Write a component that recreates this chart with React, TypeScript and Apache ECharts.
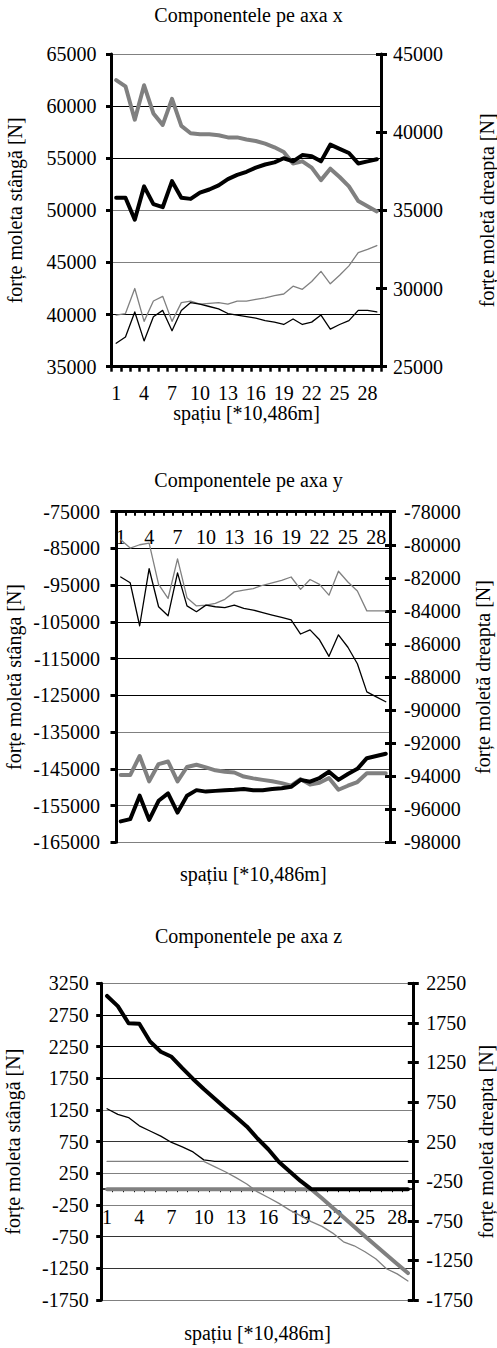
import React, { useEffect, useRef } from 'react';
import * as echarts from 'echarts';

const categories = ['1', '2', '3', '4', '5', '6', '7', '8', '9', '10', '11', '12', '13', '14', '15', '16', '17', '18', '19', '20', '21', '22', '23', '24', '25', '26', '27', '28', '29'];

// Componentele pe axa x
const xThickGrayLeft = [62500, 61900, 58700, 62000, 59300, 58200, 60700, 58100, 57400, 57300, 57300, 57200, 57000, 57000, 56800, 56650, 56400, 56050, 55600, 54500, 54700, 54100, 52900, 54000, 53200, 52300, 50900, 50400, 49900];
const xThickBlackLeft = [51200, 51200, 49100, 52300, 50600, 50300, 52800, 51200, 51100, 51700, 52000, 52400, 53000, 53400, 53700, 54100, 54400, 54600, 55000, 54700, 55300, 55200, 54700, 56300, 55900, 55500, 54500, 54700, 54900];
const xThinGrayRight = [28300, 28400, 30000, 27900, 29200, 29500, 27900, 29100, 29200, 29000, 29050, 29100, 29000, 29200, 29200, 29300, 29400, 29550, 29650, 30150, 29950, 30450, 31100, 30300, 30850, 31450, 32300, 32500, 32750];
const xThinBlackRight = [26500, 26900, 28500, 26650, 28200, 28600, 27300, 28600, 29100, 29000, 28850, 28700, 28400, 28300, 28200, 28100, 27950, 27850, 27700, 28050, 27700, 27850, 28300, 27400, 27700, 27950, 28600, 28600, 28500];

// Componentele pe axa y
const yThickGrayLeft = [-146700, -146700, -141500, -148400, -143700, -143000, -148400, -144500, -143900, -144600, -145400, -145800, -146000, -147100, -147600, -148000, -148400, -148900, -149600, -147800, -149300, -148800, -147500, -150700, -149600, -148600, -146200, -146200, -146200];
const yThickBlackLeft = [-159300, -158700, -152300, -158900, -153700, -151700, -156900, -152300, -150800, -151200, -151000, -150800, -150700, -150500, -150800, -150800, -150500, -150300, -149900, -148000, -148500, -147500, -145800, -148000, -146400, -145000, -142100, -141500, -140900];
const yThinGrayRight = [-79700, -80200, -80000, -79900, -82400, -83250, -80850, -83200, -83700, -83650, -83550, -83300, -82850, -82750, -82650, -82450, -82300, -82150, -81950, -82700, -82100, -82400, -83050, -81600, -82250, -82800, -84000, -84000, -84000];
const yThinBlackRight = [-81950, -82300, -84900, -81450, -83750, -84300, -81700, -83700, -84050, -83650, -83750, -83800, -83650, -83850, -83950, -84100, -84250, -84400, -84550, -85400, -85150, -85750, -86750, -85450, -86200, -87200, -88900, -89200, -89500];

// Componentele pe axa z
const zThickBlackLeft = [3050, 2890, 2620, 2610, 2330, 2170, 2090, 1910, 1740, 1580, 1430, 1280, 1140, 990, 800, 630, 430, 280, 130, 0, 0, 0, 0, 0, 0, 0, 0, 0, 0];
const zThickGrayLeft = [0, 0, 0, 0, 0, 0, 0, 0, 0, 0, 0, 0, 0, 0, 0, 0, 0, 0, 0, 0, -145, -295, -445, -595, -745, -890, -1035, -1180, -1325];
const zThinBlackRight = [665, 595, 555, 450, 385, 320, 240, 185, 120, 20, 0, 0, 0, 0, 0, 0, 0, 0, 0, 0, 0, 0, 0, 0, 0, 0, 0, 0, 0];
const zThinGrayRight = [0, 0, 0, 0, 0, 0, 0, 0, 0, 0, -65, -130, -205, -285, -385, -455, -530, -615, -685, -760, -820, -905, -1015, -1065, -1140, -1230, -1355, -1420, -1510];

// axis ranges [min, max, interval]
const xLeftRange = [35000, 65000, 5000];
const xRightRange = [25000, 45000, 5000];
const yLeftRange = [-165000, -75000, 10000];
const yRightRange = [-98000, -78000, 2000];
const zLeftRange = [-1750, 3250, 500];
const zRightRange = [-1750, 2250, 500];

const titles = ['Componentele pe axa x', 'Componentele pe axa y', 'Componentele pe axa z'];
const xName = 'spațiu [*10,486m]';
const leftNames = ['forțe moleta stângă [N]', 'forțe moletă stânga [N]', 'forțe moleta stângă [N]'];
const rightName = 'forțe moletă dreapta [N]';

const FONT = "'Liberation Serif', 'Times New Roman', serif";
const GRAY = '#808080';
const BLACK = '#000000';

type Panel = {
  title: string;
  titleTop: number;
  grid: { left: number; right: number; top: number; height: number };
  zeroOffset: number; // height from grid top to the category axis when it sits on zero
  left: number[];
  right: number[];
  leftName: string;
  leftNameGap: number;
  rightNameGap: number;
  leftLabelMargin: number;
  rightLabelMargin: number;
  splitColors: string[];
  xMode: 'bottom' | 'top' | 'zero';
  xLabelMargin: number;
  xNameGap: number;
  xTickLength: number;
  xTickWidth: number;
  xLineWidth: number;
  thickGray: number[];
  thickBlack: number[];
  thinGray: number[];
  thinBlack: number[];
};

const panels: Panel[] = [
  {
    title: titles[0], titleTop: 5,
    grid: { left: 111.5, right: 115.5, top: 54, height: 312.7 }, zeroOffset: 0,
    left: xLeftRange, right: xRightRange,
    leftName: leftNames[0], leftNameGap: 86.5, rightNameGap: 95,
    leftLabelMargin: 15, rightLabelMargin: 11.5,
    splitColors: [BLACK, BLACK, GRAY, GRAY, BLACK, BLACK, GRAY],
    xMode: 'bottom', xLabelMargin: 16, xNameGap: 36.5, xTickLength: 5, xTickWidth: 2.5, xLineWidth: 3,
    thickGray: xThickGrayLeft, thickBlack: xThickBlackLeft, thinGray: xThinGrayRight, thinBlack: xThinBlackRight,
  },
  {
    title: titles[1], titleTop: 470,
    grid: { left: 116, right: 106.5, top: 511.7, height: 330.6 }, zeroOffset: 0,
    left: yLeftRange, right: yRightRange,
    leftName: leftNames[1], leftNameGap: 92, rightNameGap: 82,
    leftLabelMargin: 16, rightLabelMargin: 13.5,
    splitColors: [GRAY, GRAY, '#404040', GRAY, BLACK, BLACK, BLACK, BLACK, BLACK, BLACK],
    xMode: 'top', xLabelMargin: 15.5, xNameGap: 22, xTickLength: 4, xTickWidth: 2, xLineWidth: 3,
    thickGray: yThickGrayLeft, thickBlack: yThickBlackLeft, thinGray: yThinGrayRight, thinBlack: yThinBlackRight,
  },
  {
    title: titles[2], titleTop: 926,
    grid: { left: 101.7, right: 83.7, top: 983.3, height: 316.7 }, zeroOffset: 205.9,
    left: zLeftRange, right: zRightRange,
    leftName: leftNames[2], leftNameGap: 79, rightNameGap: 63,
    leftLabelMargin: 13, rightLabelMargin: 13,
    splitColors: [GRAY, '#333333', '#333333', GRAY, GRAY, '#333333', GRAY, BLACK, BLACK, BLACK, GRAY],
    xMode: 'zero', xLabelMargin: 17.5, xNameGap: 23, xTickLength: 3, xTickWidth: 1, xLineWidth: 1.5,
    thickGray: zThickGrayLeft, thickBlack: zThickBlackLeft, thinGray: zThinGrayRight, thinBlack: zThinBlackRight,
  },
];

const textBase = { fontFamily: FONT, fontSize: 20, fontWeight: 'normal', fontStyle: 'normal', color: BLACK };

function buildOption() {
  const title: any[] = [];
  const grid: any[] = [];
  const xAxis: any[] = [];
  const yAxis: any[] = [];
  const series: any[] = [];
  const extraGrids: any[] = [];
  const extraX: any[] = [];
  const extraY: any[] = [];

  panels.forEach((p, i) => {
    title.push({
      text: p.title, left: 'center', top: p.titleTop, padding: 0,
      textStyle: { ...textBase },
    });
    grid.push({ ...p.grid, containLabel: false, outerBoundsMode: 'none' });

    const mainAxis: any = {
      type: 'category', data: categories, boundaryGap: true,
      position: p.xMode === 'top' ? 'top' : 'bottom',
      axisLine: { show: true, onZero: false, lineStyle: { color: BLACK, width: p.xLineWidth } },
      axisTick: { show: true, interval: 0, inside: p.xMode === 'top', length: p.xTickLength, lineStyle: { color: BLACK, width: p.xTickWidth } },
      axisLabel: { show: true, interval: 2, inside: p.xMode === 'top', margin: p.xLabelMargin, ...textBase, hideOverlap: false },
      splitLine: { show: false },
    };
    if (p.xMode === 'zero') {
      // the category axis crosses the left value axis at 0: drawn on a helper grid ending at that line
      extraGrids.push({ left: p.grid.left, right: p.grid.right, top: p.grid.top, height: p.zeroOffset, containLabel: false, outerBoundsMode: 'none' });
      extraX.push({ ...mainAxis, gridIndex: panels.length + extraGrids.length - 1 });
      extraY.push({ type: 'value', gridIndex: panels.length + extraGrids.length - 1, show: false, min: 0, max: 1 });
      // placeholder keeps indices regular
      xAxis.push({ type: 'category', gridIndex: i, data: categories, boundaryGap: true, show: false });
    } else {
      xAxis.push({ ...mainAxis, gridIndex: i });
    }
    // bottom axis carrying the name (series are drawn on it)
    xAxis.push({
      type: 'category', gridIndex: i, data: categories, boundaryGap: true, position: 'bottom',
      axisLine: { show: false, onZero: false }, axisTick: { show: false }, axisLabel: { show: false }, splitLine: { show: false },
      name: xName, nameLocation: 'middle', nameGap: p.xNameGap, nameTextStyle: { ...textBase }, nameMoveOverlap: false,
    });

    const [lmin, lmax, lint] = p.left;
    const [rmin, rmax, rint] = p.right;
    yAxis.push({
      type: 'value', gridIndex: i, position: 'left', min: lmin, max: lmax, interval: lint,
      axisLine: { show: true, onZero: false, lineStyle: { color: BLACK, width: 3 } },
      axisTick: { show: true, inside: false, length: 5.5, lineStyle: { color: BLACK, width: 3 } },
      axisLabel: { show: true, margin: p.leftLabelMargin, formatter: (v: number) => String(v), ...textBase, hideOverlap: false },
      splitLine: { show: true, lineStyle: { color: p.splitColors, width: 1 } },
      name: p.leftName, nameLocation: 'middle', nameGap: p.leftNameGap, nameTextStyle: { ...textBase }, nameMoveOverlap: false,
    });
    yAxis.push({
      type: 'value', gridIndex: i, position: 'right', min: rmin, max: rmax, interval: rint,
      axisLine: { show: true, onZero: false, lineStyle: { color: BLACK, width: 3 } },
      axisTick: { show: true, inside: false, length: 5.5, lineStyle: { color: BLACK, width: 3 } },
      axisLabel: { show: true, margin: p.rightLabelMargin, formatter: (v: number) => String(v), ...textBase, hideOverlap: false },
      splitLine: { show: false },
      name: rightName, nameLocation: 'middle', nameGap: p.rightNameGap, nameTextStyle: { ...textBase }, nameMoveOverlap: false,
    });
    yAxis.push({
      type: 'value', gridIndex: i, position: 'right', min: rmin, max: rmax, interval: rint,
      axisLine: { show: false, onZero: false },
      axisTick: { show: true, inside: true, length: 5.5, lineStyle: { color: BLACK, width: 3 } },
      axisLabel: { show: false }, splitLine: { show: false },
    });

    const mk = (data: number[], yIdx: number, color: string, width: number) => ({
      type: 'line', xAxisIndex: 2 * i + 1, yAxisIndex: yIdx, data,
      symbol: 'none', showSymbol: false, smooth: false, silent: true,
      lineStyle: { color, width, cap: 'round', join: 'round' },
      itemStyle: { color },
      emphasis: { disabled: true },
    });
    series.push(mk(p.thinGray, 3 * i + 1, GRAY, 1.3));
    series.push(mk(p.thinBlack, 3 * i + 1, BLACK, 1.3));
    series.push(mk(p.thickGray, 3 * i, GRAY, 4));
    series.push(mk(p.thickBlack, 3 * i, BLACK, 4));
  });

  return {
    animation: false,
    backgroundColor: '#ffffff',
    textStyle: { fontFamily: FONT },
    title,
    grid: [...grid, ...extraGrids],
    xAxis: [...xAxis, ...extraX],
    yAxis: [...yAxis, ...extraY],
    series,
  };
}

export default function App() {
  const ref = useRef<HTMLDivElement>(null);
  useEffect(() => {
    if (!ref.current) return;
    const chart = echarts.init(ref.current, undefined, { renderer: 'svg' });
    chart.setOption(buildOption() as any);
    return () => chart.dispose();
  }, []);
  return (
    <div
      ref={ref}
      style={{ position: 'absolute', left: 0, top: 0, width: 497, height: 1348, background: '#fff' }}
    />
  );
}
